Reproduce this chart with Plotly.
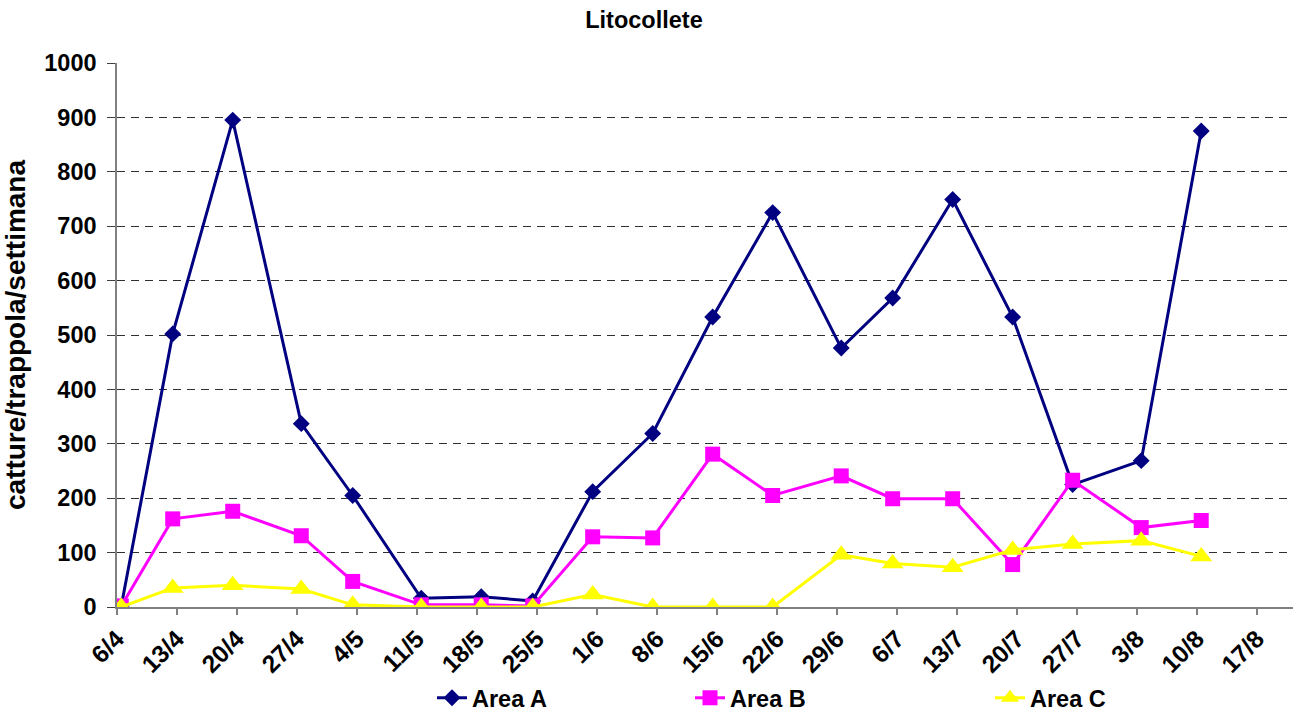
import pandas as pd
import plotly.graph_objects as go

# Sampling dates (weekly trap checks)
dates = ["2007-04-06", "2007-04-12", "2007-04-19", "2007-04-27", "2007-05-03",
         "2007-05-11", "2007-05-18", "2007-05-24", "2007-05-31", "2007-06-07",
         "2007-06-14", "2007-06-21", "2007-06-29", "2007-07-05", "2007-07-12",
         "2007-07-19", "2007-07-26", "2007-08-03", "2007-08-10"]

area_a = [2, 502, 895, 337, 205, 16, 19, 11, 212, 319,
          533, 725, 476, 568, 749, 533, 225, 269, 875]
area_b = [2, 162, 176, 131, 47, 4, 4, 2, 129, 127,
          281, 205, 241, 199, 199, 78, 233, 146, 159]
area_c = [0, 35, 40, 33, 4, 0, 0, 0, 23, 0,
          0, 0, 96, 80, 73, 105, 116, 122, 93]

series_names = ["Area A", "Area B", "Area C"]

FONT = "Liberation Sans, Arial, sans-serif"
FS = 23.5

# points sit in the middle of their day on the date axis
x = pd.to_datetime(dates) + pd.Timedelta(hours=12)

fig = go.Figure()

styles = [
    dict(color="#000080", symbol="diamond", size=13),
    dict(color="#FF00FF", symbol="square", size=15),
    dict(color="#FFFF00", symbol="triangle-up", size=19),
]
legend_ids = ["legend", "legend2", "legend3"]

for name, vals, st, lg in zip(series_names, [area_a, area_b, area_c], styles, legend_ids):
    fig.add_trace(go.Scatter(
        x=x, y=vals, name=name, mode="lines+markers",
        line=dict(color=st["color"], width=3),
        marker=dict(color=st["color"], symbol=st["symbol"], size=st["size"],
                    line=dict(width=0)),
        legend=lg,
    ))

L, R, T, B = 117, 6, 63, 107
W, H = 1299, 714
plot_w = W - L - R


def px_x(p):
    return (p - L) / plot_w


bold = dict(family=FONT, size=FS, color="#000000", weight="bold")

legend_common = dict(
    orientation="h", yanchor="middle", xanchor="left",
    yref="container", y=(H - 698) / H,
    font=bold, bgcolor="rgba(0,0,0,0)", borderwidth=0,
)

fig.update_layout(
    width=W, height=H,
    margin=dict(l=L, r=R, t=T, b=B, autoexpand=False),
    paper_bgcolor="white", plot_bgcolor="white",
    font=bold,
    title=dict(text="Litocollete", x=px_x(644), xref="paper", xanchor="center",
               y=1 - 20 / H, yref="container", yanchor="middle", font=bold),
    legend=dict(x=px_x(432), **legend_common),
    legend2=dict(x=px_x(690), **legend_common),
    legend3=dict(x=px_x(990), **legend_common),
    showlegend=True,
)

fig.update_xaxes(
    type="date", automargin=False,
    range=["2007-04-06 00:00", "2007-08-21 05:00"],
    tick0="2007-04-06", dtick=7 * 24 * 3600 * 1000,
    tickformat="%-d/%-m", tickangle=-45,
    ticks="outside", ticklen=6, tickcolor="#808080", tickwidth=1.5,
    showline=True, linecolor="#808080", linewidth=1.5,
    showgrid=False, zeroline=False,
    tickfont=dict(family=FONT, size=24.5, color="#000000", weight="bold"),
)

fig.update_yaxes(
    range=[0, 1000], dtick=100, tick0=0, automargin=False,
    ticks="outside", ticklen=8, tickcolor="#404040", tickwidth=1,
    showline=True, linecolor="#808080", linewidth=1.5,
    showgrid=True, gridcolor="#303030", gridwidth=1.2, griddash="8px,6px",
    zeroline=False, ticklabelstandoff=6,
    tickfont=bold,
    title=dict(text="catture/trappola/settimana", standoff=10,
               font=dict(family=FONT, size=28, color="#000000", weight="bold")),
)

fig.write_html("out.html")
